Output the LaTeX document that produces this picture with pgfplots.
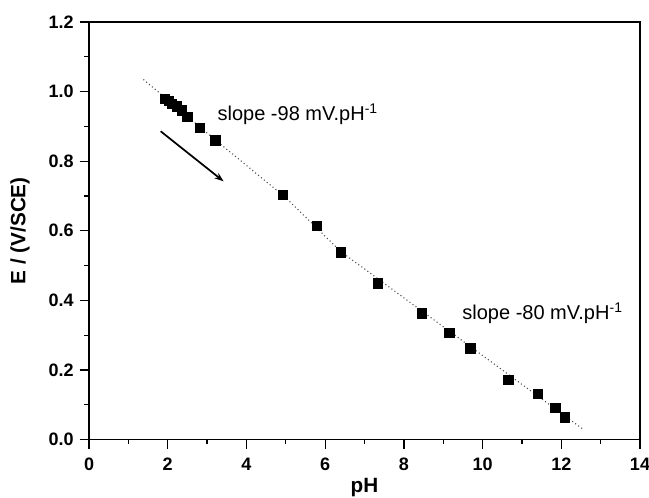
\documentclass[border=0pt]{standalone}
\usepackage{fontspec}
\setmainfont{Liberation Sans}
\usepackage{pgfplots}
\usetikzlibrary{arrows.meta}
\pgfplotsset{compat=1.18}
\begin{document}
\begin{tikzpicture}
\begin{axis}[
  name=ax,
  scale only axis,
  width=413pt, height=313pt,
  xmin=0, xmax=14, ymin=0, ymax=1.2,
  xtick={0,2,...,14}, minor xtick={1,3,...,13},
  ytick={0,0.2,...,1.2}, minor ytick={0.1,0.3,...,1.1},
  tick pos=left, tick align=outside,
  major tick length=7pt, minor tick length=3.5pt,
  every tick/.style={black, line width=1pt},
  axis line style={line width=1.1pt},
  /pgf/number format/assume math mode=true,
  ticklabel style={font=\fontsize{13.5}{15}\selectfont\bfseries},
  yticklabel style={/pgf/number format/fixed,/pgf/number format/fixed zerofill,/pgf/number format/precision=1, xshift=-1pt},
  xticklabel style={yshift=-3pt},
  xlabel={pH}, ylabel={E / (V/SCE)},
  xlabel style={at={(axis description cs:0.5,-0.115)},anchor=center,font=\fontsize{15.5}{17}\selectfont\bfseries},
  ylabel style={at={(axis description cs:-0.1253,0.5)},rotate=0,anchor=center,font=\fontsize{15.5}{17}\selectfont\bfseries},
  clip=false,
]
\addplot[gray!60!black, dotted, line width=0.8pt] coordinates {
  (1.38,1.035) (3.2,0.862) (5.0,0.695) (6.4,0.540) (12.55,0.030)
};
\addplot[only marks, mark=square*, mark size=3.5pt, black] coordinates {
  (1.93,0.979) (2.02,0.973) (2.10,0.966) (2.23,0.958) (2.36,0.946) (2.50,0.928)
  (2.82,0.896) (3.21,0.860) (4.93,0.703) (5.79,0.614) (6.40,0.538) (7.34,0.449)
  (8.46,0.363) (9.15,0.306) (9.69,0.262) (10.65,0.172) (11.41,0.132) (11.85,0.092)
  (12.09,0.064)
};
\draw[-{Stealth[length=7pt,width=5pt]}, line width=1.3pt] (axis cs:1.82,0.886) -- (axis cs:3.42,0.742);
\node[anchor=west, font=\fontsize{15}{17}\selectfont, inner sep=0pt] at (axis cs:3.26,0.935) {slope -98 mV.pH\textsuperscript{-1}};
\node[anchor=west, font=\fontsize{15}{17}\selectfont, inner sep=0pt] at (axis cs:9.48,0.362) {slope -80 mV.pH\textsuperscript{-1}};
\end{axis}
\pgfresetboundingbox
\path[use as bounding box] ([xshift=-66.75pt,yshift=-43.5pt]ax.south west) rectangle ([xshift=6.75pt,yshift=16.5pt]ax.north east);
\end{tikzpicture}
\end{document}
